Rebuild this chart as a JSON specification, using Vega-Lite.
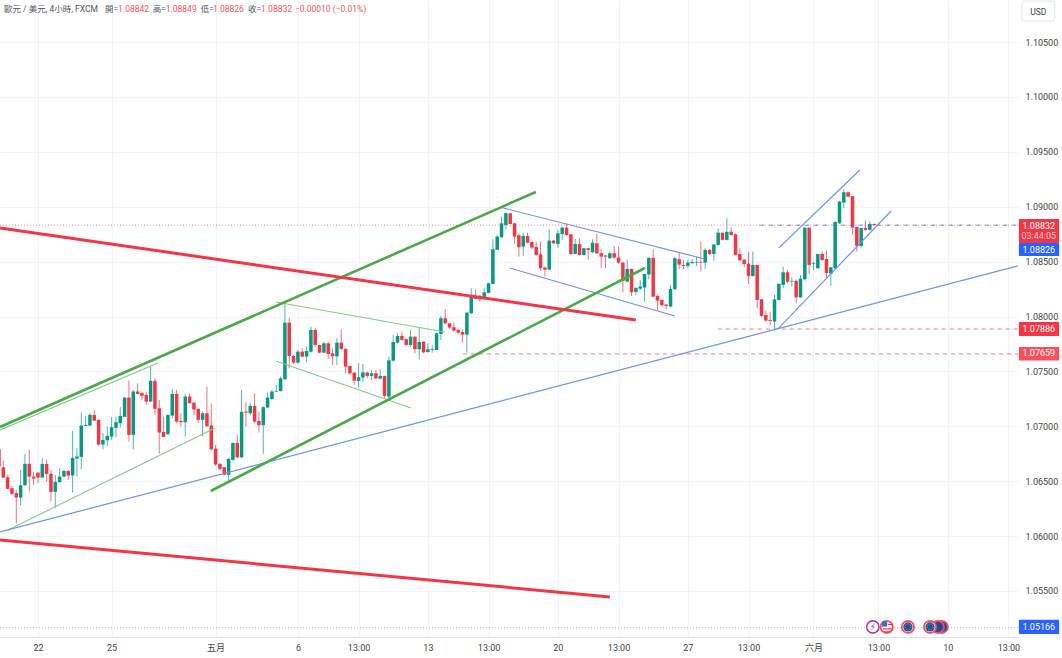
{
"$schema":"https://vega.github.io/schema/vega-lite/v6.json",
"description":"EUR/USD 4h candlesticks with hand-drawn trend lines",
"width":1018,"height":637,
"autosize":{"type":"none"},
"padding":{"left":0,"top":0,"right":44,"bottom":21},
"background":"#ffffff",
"config":{"view":{"stroke":null},"font":"Roboto"},
"datasets":{
"candles":[
{"bar":-1,"open":1.06791,"high":1.06791,"low":1.06633,"close":1.06633},
{"bar":0,"open":1.06627,"high":1.06688,"low":1.06527,"close":1.06533},
{"bar":1,"open":1.06536,"high":1.06558,"low":1.06427,"close":1.0643},
{"bar":2,"open":1.06436,"high":1.06457,"low":1.06375,"close":1.06385},
{"bar":3,"open":1.06391,"high":1.06421,"low":1.06117,"close":1.06351},
{"bar":4,"open":1.06351,"high":1.06603,"low":1.06281,"close":1.06463},
{"bar":5,"open":1.06463,"high":1.06749,"low":1.06457,"close":1.06658},
{"bar":6,"open":1.06658,"high":1.06785,"low":1.06406,"close":1.06542},
{"bar":7,"open":1.06542,"high":1.06588,"low":1.06467,"close":1.06524},
{"bar":8,"open":1.06579,"high":1.06579,"low":1.06482,"close":1.06533},
{"bar":9,"open":1.06533,"high":1.06709,"low":1.06533,"close":1.06658},
{"bar":10,"open":1.06658,"high":1.06694,"low":1.06497,"close":1.06567},
{"bar":11,"open":1.06567,"high":1.06603,"low":1.06315,"close":1.06403},
{"bar":12,"open":1.06403,"high":1.06558,"low":1.06254,"close":1.06494},
{"bar":13,"open":1.06491,"high":1.06618,"low":1.06488,"close":1.06542},
{"bar":14,"open":1.06542,"high":1.06603,"low":1.06536,"close":1.06594},
{"bar":15,"open":1.06594,"high":1.06603,"low":1.06512,"close":1.06552},
{"bar":16,"open":1.06552,"high":1.06958,"low":1.06397,"close":1.06712},
{"bar":17,"open":1.06706,"high":1.068,"low":1.06542,"close":1.06725},
{"bar":18,"open":1.06722,"high":1.07125,"low":1.06609,"close":1.07007},
{"bar":19,"open":1.07004,"high":1.07095,"low":1.07004,"close":1.07013},
{"bar":20,"open":1.07007,"high":1.07119,"low":1.07004,"close":1.07104},
{"bar":21,"open":1.07104,"high":1.0715,"low":1.07049,"close":1.07052},
{"bar":22,"open":1.07059,"high":1.07059,"low":1.06822,"close":1.06834},
{"bar":23,"open":1.06834,"high":1.06937,"low":1.06791,"close":1.06876},
{"bar":24,"open":1.06873,"high":1.06998,"low":1.06822,"close":1.06913},
{"bar":25,"open":1.06907,"high":1.07083,"low":1.06876,"close":1.06992},
{"bar":26,"open":1.06986,"high":1.07089,"low":1.06901,"close":1.07037},
{"bar":27,"open":1.07028,"high":1.07174,"low":1.06989,"close":1.07095},
{"bar":28,"open":1.07086,"high":1.07262,"low":1.07086,"close":1.07262},
{"bar":29,"open":1.07262,"high":1.07417,"low":1.06861,"close":1.06922},
{"bar":30,"open":1.06922,"high":1.07332,"low":1.06791,"close":1.07317},
{"bar":31,"open":1.07317,"high":1.07392,"low":1.07295,"close":1.07295},
{"bar":32,"open":1.07304,"high":1.07317,"low":1.07235,"close":1.07277},
{"bar":33,"open":1.07286,"high":1.07317,"low":1.07195,"close":1.07225},
{"bar":34,"open":1.07225,"high":1.07544,"low":1.07225,"close":1.07414},
{"bar":35,"open":1.07414,"high":1.07438,"low":1.07104,"close":1.07159},
{"bar":36,"open":1.07165,"high":1.07241,"low":1.06749,"close":1.06943},
{"bar":37,"open":1.06949,"high":1.07089,"low":1.06901,"close":1.06904},
{"bar":38,"open":1.06928,"high":1.07104,"low":1.06922,"close":1.07104},
{"bar":39,"open":1.07098,"high":1.07338,"low":1.07074,"close":1.07295},
{"bar":40,"open":1.07295,"high":1.07332,"low":1.07028,"close":1.07043},
{"bar":41,"open":1.07049,"high":1.07119,"low":1.06998,"close":1.07037},
{"bar":42,"open":1.07037,"high":1.07295,"low":1.06907,"close":1.07271},
{"bar":43,"open":1.07271,"high":1.07301,"low":1.0721,"close":1.0721},
{"bar":44,"open":1.07216,"high":1.07216,"low":1.07104,"close":1.07153},
{"bar":45,"open":1.07159,"high":1.07165,"low":1.07028,"close":1.07059},
{"bar":46,"open":1.07059,"high":1.07134,"low":1.06907,"close":1.07119},
{"bar":47,"open":1.07119,"high":1.07362,"low":1.06998,"close":1.07001},
{"bar":48,"open":1.07007,"high":1.0721,"low":1.06779,"close":1.06791},
{"bar":49,"open":1.06797,"high":1.06831,"low":1.0664,"close":1.06652},
{"bar":50,"open":1.06658,"high":1.06664,"low":1.06597,"close":1.06612},
{"bar":51,"open":1.06627,"high":1.06627,"low":1.06558,"close":1.06558},
{"bar":52,"open":1.06558,"high":1.06709,"low":1.06497,"close":1.06703},
{"bar":53,"open":1.06694,"high":1.06849,"low":1.06688,"close":1.06849},
{"bar":54,"open":1.06849,"high":1.06922,"low":1.06709,"close":1.06718},
{"bar":55,"open":1.06718,"high":1.07332,"low":1.06709,"close":1.07131},
{"bar":56,"open":1.07134,"high":1.07219,"low":1.06998,"close":1.07125},
{"bar":57,"open":1.07119,"high":1.07216,"low":1.07104,"close":1.07186},
{"bar":58,"open":1.07186,"high":1.07301,"low":1.07028,"close":1.07043},
{"bar":59,"open":1.07049,"high":1.07134,"low":1.06943,"close":1.0701},
{"bar":60,"open":1.0701,"high":1.0718,"low":1.06749,"close":1.07174},
{"bar":61,"open":1.07171,"high":1.07307,"low":1.07165,"close":1.07262},
{"bar":62,"open":1.07249,"high":1.07331,"low":1.0724,"close":1.07316},
{"bar":63,"open":1.07316,"high":1.07377,"low":1.07316,"close":1.07322},
{"bar":64,"open":1.07322,"high":1.07453,"low":1.07316,"close":1.07437},
{"bar":65,"open":1.07428,"high":1.08127,"low":1.07428,"close":1.07944},
{"bar":66,"open":1.07944,"high":1.0799,"low":1.07529,"close":1.07641},
{"bar":67,"open":1.07641,"high":1.0765,"low":1.07568,"close":1.0758},
{"bar":68,"open":1.0758,"high":1.07695,"low":1.07568,"close":1.0768},
{"bar":69,"open":1.0768,"high":1.07711,"low":1.07629,"close":1.07635},
{"bar":70,"open":1.07635,"high":1.07726,"low":1.0758,"close":1.07686},
{"bar":71,"open":1.0768,"high":1.07908,"low":1.07671,"close":1.07878},
{"bar":72,"open":1.07878,"high":1.07893,"low":1.07726,"close":1.07741},
{"bar":73,"open":1.07741,"high":1.07741,"low":1.07665,"close":1.07671},
{"bar":74,"open":1.07671,"high":1.07771,"low":1.07665,"close":1.07756},
{"bar":75,"open":1.07756,"high":1.07771,"low":1.07614,"close":1.07659},
{"bar":76,"open":1.07665,"high":1.07711,"low":1.07559,"close":1.07638},
{"bar":77,"open":1.07638,"high":1.07802,"low":1.07559,"close":1.07762},
{"bar":78,"open":1.07762,"high":1.07884,"low":1.07695,"close":1.07705},
{"bar":79,"open":1.07705,"high":1.07711,"low":1.07483,"close":1.07544},
{"bar":80,"open":1.0755,"high":1.0755,"low":1.07468,"close":1.07483},
{"bar":81,"open":1.07489,"high":1.07489,"low":1.07377,"close":1.07416},
{"bar":82,"open":1.07413,"high":1.07574,"low":1.07355,"close":1.07447},
{"bar":83,"open":1.07444,"high":1.07568,"low":1.07407,"close":1.07492},
{"bar":84,"open":1.07489,"high":1.07498,"low":1.07437,"close":1.07459},
{"bar":85,"open":1.07459,"high":1.07513,"low":1.07422,"close":1.07483},
{"bar":86,"open":1.07483,"high":1.07513,"low":1.07428,"close":1.07437},
{"bar":87,"open":1.07434,"high":1.07519,"low":1.07428,"close":1.07459},
{"bar":88,"open":1.07459,"high":1.07459,"low":1.07255,"close":1.07277},
{"bar":89,"open":1.0727,"high":1.07635,"low":1.0724,"close":1.07601},
{"bar":90,"open":1.07598,"high":1.07832,"low":1.07589,"close":1.07768},
{"bar":91,"open":1.07762,"high":1.07847,"low":1.07756,"close":1.07823},
{"bar":92,"open":1.07823,"high":1.07862,"low":1.07781,"close":1.07787},
{"bar":93,"open":1.07793,"high":1.07802,"low":1.07732,"close":1.07741},
{"bar":94,"open":1.07741,"high":1.07878,"low":1.07726,"close":1.07817},
{"bar":95,"open":1.07817,"high":1.07817,"low":1.07665,"close":1.07702},
{"bar":96,"open":1.07702,"high":1.07902,"low":1.0761,"close":1.07768},
{"bar":97,"open":1.07771,"high":1.07771,"low":1.07665,"close":1.07674},
{"bar":98,"open":1.07677,"high":1.07756,"low":1.07671,"close":1.07702},
{"bar":99,"open":1.07695,"high":1.07741,"low":1.07671,"close":1.07702},
{"bar":100,"open":1.07695,"high":1.07853,"low":1.07695,"close":1.07847},
{"bar":101,"open":1.07841,"high":1.08005,"low":1.07787,"close":1.07984},
{"bar":102,"open":1.07984,"high":1.08069,"low":1.07929,"close":1.07938},
{"bar":103,"open":1.07938,"high":1.07938,"low":1.07884,"close":1.07899},
{"bar":104,"open":1.07902,"high":1.07944,"low":1.07862,"close":1.07872},
{"bar":105,"open":1.07878,"high":1.07884,"low":1.07847,"close":1.07853},
{"bar":106,"open":1.07859,"high":1.07884,"low":1.07762,"close":1.07835},
{"bar":107,"open":1.07835,"high":1.08036,"low":1.07671,"close":1.08036},
{"bar":108,"open":1.0803,"high":1.08257,"low":1.08021,"close":1.08182},
{"bar":109,"open":1.08188,"high":1.08248,"low":1.08157,"close":1.0816},
{"bar":110,"open":1.08188,"high":1.08197,"low":1.08136,"close":1.08157},
{"bar":111,"open":1.0816,"high":1.08257,"low":1.08157,"close":1.08221},
{"bar":112,"open":1.08215,"high":1.08309,"low":1.08212,"close":1.08303},
{"bar":113,"open":1.08297,"high":1.08704,"low":1.08291,"close":1.08613},
{"bar":114,"open":1.08607,"high":1.08743,"low":1.08607,"close":1.08728},
{"bar":115,"open":1.08722,"high":1.0891,"low":1.08719,"close":1.08849},
{"bar":116,"open":1.08834,"high":1.08947,"low":1.08795,"close":1.08941},
{"bar":117,"open":1.08941,"high":1.08941,"low":1.08843,"close":1.08843},
{"bar":118,"open":1.08849,"high":1.08856,"low":1.08661,"close":1.08728},
{"bar":119,"open":1.0874,"high":1.08758,"low":1.08546,"close":1.08631},
{"bar":120,"open":1.08637,"high":1.08764,"low":1.08552,"close":1.08734},
{"bar":121,"open":1.08734,"high":1.08764,"low":1.08667,"close":1.08673},
{"bar":122,"open":1.08679,"high":1.08686,"low":1.08613,"close":1.08628},
{"bar":123,"open":1.08634,"high":1.08683,"low":1.08552,"close":1.08561},
{"bar":124,"open":1.08567,"high":1.08683,"low":1.08418,"close":1.0844},
{"bar":125,"open":1.08446,"high":1.08455,"low":1.08364,"close":1.08427},
{"bar":126,"open":1.08427,"high":1.08795,"low":1.08424,"close":1.08692},
{"bar":127,"open":1.08692,"high":1.08698,"low":1.08661,"close":1.08667},
{"bar":128,"open":1.08661,"high":1.08789,"low":1.08628,"close":1.08758},
{"bar":129,"open":1.08752,"high":1.08819,"low":1.08698,"close":1.0881},
{"bar":130,"open":1.0881,"high":1.08849,"low":1.08734,"close":1.08743},
{"bar":131,"open":1.08749,"high":1.08749,"low":1.08561,"close":1.0857},
{"bar":132,"open":1.0857,"high":1.08707,"low":1.08567,"close":1.08661},
{"bar":133,"open":1.08661,"high":1.08713,"low":1.08555,"close":1.08561},
{"bar":134,"open":1.08561,"high":1.08622,"low":1.08555,"close":1.08622},
{"bar":135,"open":1.08622,"high":1.08622,"low":1.08516,"close":1.08607},
{"bar":136,"open":1.08585,"high":1.08704,"low":1.08576,"close":1.08673},
{"bar":137,"open":1.08667,"high":1.08752,"low":1.0857,"close":1.08576},
{"bar":138,"open":1.08576,"high":1.08616,"low":1.0844,"close":1.08546},
{"bar":139,"open":1.08555,"high":1.08561,"low":1.0844,"close":1.08546},
{"bar":140,"open":1.08531,"high":1.08591,"low":1.08525,"close":1.08576},
{"bar":141,"open":1.08576,"high":1.08643,"low":1.08525,"close":1.08537},
{"bar":142,"open":1.08537,"high":1.08637,"low":1.08479,"close":1.08491},
{"bar":143,"open":1.08491,"high":1.085,"low":1.08221,"close":1.08324},
{"bar":144,"open":1.08318,"high":1.08516,"low":1.08312,"close":1.08434},
{"bar":145,"open":1.08434,"high":1.08434,"low":1.08188,"close":1.08221},
{"bar":146,"open":1.08224,"high":1.08267,"low":1.08197,"close":1.08261},
{"bar":147,"open":1.08254,"high":1.08333,"low":1.08242,"close":1.08273},
{"bar":148,"open":1.08264,"high":1.08388,"low":1.08136,"close":1.08388},
{"bar":149,"open":1.08382,"high":1.0854,"low":1.08339,"close":1.08534},
{"bar":150,"open":1.08534,"high":1.08613,"low":1.08176,"close":1.08182},
{"bar":151,"open":1.08188,"high":1.08197,"low":1.08054,"close":1.08145},
{"bar":152,"open":1.08151,"high":1.08157,"low":1.08091,"close":1.08103},
{"bar":153,"open":1.08109,"high":1.08115,"low":1.08066,"close":1.08097},
{"bar":154,"open":1.08091,"high":1.08288,"low":1.08081,"close":1.08251},
{"bar":155,"open":1.08248,"high":1.0854,"low":1.08242,"close":1.08531},
{"bar":156,"open":1.08522,"high":1.08582,"low":1.08431,"close":1.08473},
{"bar":157,"open":1.0847,"high":1.08516,"low":1.08431,"close":1.08461},
{"bar":158,"open":1.08461,"high":1.08516,"low":1.0844,"close":1.08491},
{"bar":159,"open":1.08485,"high":1.08525,"low":1.08485,"close":1.08497},
{"bar":160,"open":1.08491,"high":1.08546,"low":1.08461,"close":1.08497},
{"bar":161,"open":1.08497,"high":1.08683,"low":1.08409,"close":1.08491},
{"bar":162,"open":1.08491,"high":1.08622,"low":1.08434,"close":1.08607},
{"bar":163,"open":1.08607,"high":1.08613,"low":1.08561,"close":1.0857},
{"bar":164,"open":1.0857,"high":1.08661,"low":1.08509,"close":1.08655},
{"bar":165,"open":1.08652,"high":1.08804,"low":1.08646,"close":1.08764},
{"bar":166,"open":1.08764,"high":1.08764,"low":1.08692,"close":1.08698},
{"bar":167,"open":1.08698,"high":1.08895,"low":1.08692,"close":1.08771},
{"bar":168,"open":1.08773,"high":1.08813,"low":1.08734,"close":1.08743},
{"bar":169,"open":1.08749,"high":1.08758,"low":1.08555,"close":1.08561},
{"bar":170,"open":1.0857,"high":1.08622,"low":1.085,"close":1.08512},
{"bar":171,"open":1.08518,"high":1.08524,"low":1.08449,"close":1.08479},
{"bar":172,"open":1.08482,"high":1.08591,"low":1.08297,"close":1.0837},
{"bar":173,"open":1.0837,"high":1.08591,"low":1.08364,"close":1.0847},
{"bar":174,"open":1.0847,"high":1.0847,"low":1.08075,"close":1.08151},
{"bar":175,"open":1.08157,"high":1.08157,"low":1.07999,"close":1.08005},
{"bar":176,"open":1.08014,"high":1.08054,"low":1.07954,"close":1.07963},
{"bar":177,"open":1.07969,"high":1.08045,"low":1.07923,"close":1.0796},
{"bar":178,"open":1.07954,"high":1.08197,"low":1.07887,"close":1.08157},
{"bar":179,"open":1.08151,"high":1.08303,"low":1.08145,"close":1.08297},
{"bar":180,"open":1.08288,"high":1.08455,"low":1.08257,"close":1.08403},
{"bar":181,"open":1.08403,"high":1.08424,"low":1.08303,"close":1.08318},
{"bar":182,"open":1.08318,"high":1.08354,"low":1.08272,"close":1.08324},
{"bar":183,"open":1.08324,"high":1.08333,"low":1.08121,"close":1.08175},
{"bar":184,"open":1.08175,"high":1.08379,"low":1.08169,"close":1.08345},
{"bar":185,"open":1.08339,"high":1.0881,"low":1.08333,"close":1.0881},
{"bar":186,"open":1.0881,"high":1.0881,"low":1.08388,"close":1.0847},
{"bar":187,"open":1.08479,"high":1.085,"low":1.08424,"close":1.08485},
{"bar":188,"open":1.08439,"high":1.0857,"low":1.08439,"close":1.0857},
{"bar":189,"open":1.0857,"high":1.08591,"low":1.08506,"close":1.08515},
{"bar":190,"open":1.08524,"high":1.086,"low":1.08342,"close":1.08397},
{"bar":191,"open":1.08391,"high":1.08449,"low":1.08279,"close":1.08449},
{"bar":192,"open":1.08439,"high":1.08868,"low":1.08433,"close":1.08861},
{"bar":193,"open":1.08849,"high":1.09053,"low":1.08843,"close":1.09047},
{"bar":194,"open":1.09038,"high":1.09159,"low":1.08986,"close":1.09132},
{"bar":195,"open":1.09132,"high":1.09138,"low":1.09086,"close":1.09092},
{"bar":196,"open":1.09098,"high":1.09098,"low":1.08743,"close":1.0881},
{"bar":197,"open":1.08816,"high":1.08816,"low":1.08591,"close":1.08643},
{"bar":198,"open":1.08643,"high":1.08807,"low":1.08628,"close":1.08807},
{"bar":199,"open":1.08807,"high":1.08874,"low":1.08783,"close":1.08789},
{"bar":200,"open":1.08789,"high":1.08864,"low":1.08783,"close":1.08843},
{"bar":201,"open":1.08842,"high":1.08849,"low":1.08826,"close":1.08832}
],
"drawings":[
{"style":"closeDotted","id":"c","bar":-0.76,"price":1.08832},{"style":"closeDotted","id":"c","bar":234.2,"price":1.08832},
{"style":"blueDashed","id":"b","bar":174.7,"price":1.08832},{"style":"blueDashed","id":"b","bar":234.2,"price":1.08832},
{"style":"redDashed","id":"s1","bar":164.9,"price":1.07886},{"style":"redDashed","id":"s1","bar":234.2,"price":1.07886},
{"style":"redDashed","id":"s2","bar":106.1,"price":1.07659},{"style":"redDashed","id":"s2","bar":234.2,"price":1.07659},
{"style":"blueDotted","id":"l","bar":-0.76,"price":1.05166},{"style":"blueDotted","id":"l","bar":234.2,"price":1.05166},
{"style":"greenThin","id":"g1","bar":-0.76,"price":1.06967},{"style":"greenThin","id":"g1","bar":35.7,"price":1.07577},
{"style":"greenThin","id":"g2","bar":1.1,"price":1.06056},{"style":"greenThin","id":"g2","bar":48.9,"price":1.06985},
{"style":"greenThin","id":"g3","bar":62.9,"price":1.08133},{"style":"greenThin","id":"g3","bar":101.9,"price":1.07859},
{"style":"greenThin","id":"g4","bar":62.9,"price":1.07595},{"style":"greenThin","id":"g4","bar":94.1,"price":1.07167},
{"style":"blue","id":"b1","bar":-0.76,"price":1.06038},{"style":"blue","id":"b1","bar":234.2,"price":1.08461},
{"style":"blue","id":"b2","bar":115.3,"price":1.08989},{"style":"blue","id":"b2","bar":161.9,"price":1.08524},
{"style":"blue","id":"b3","bar":116.9,"price":1.08442},{"style":"blue","id":"b3","bar":155,"price":1.08005},
{"style":"blue","id":"b4","bar":178.8,"price":1.07887},{"style":"blue","id":"b4","bar":204.9,"price":1.08961},
{"style":"blue","id":"b5","bar":179,"price":1.08625},{"style":"blue","id":"b5","bar":197.7,"price":1.09335},
{"style":"greenThick","id":"t1","bar":-0.76,"price":1.06994},{"style":"greenThick","id":"t1","bar":122.9,"price":1.09134},
{"style":"greenThick","id":"t2","bar":47.9,"price":1.06411},{"style":"greenThick","id":"t2","bar":148.1,"price":1.08442},
{"style":"redThick","id":"r1","bar":-0.76,"price":1.08807},{"style":"redThick","id":"r1","bar":146,"price":1.07969},
{"style":"redThick","id":"r2","bar":-0.76,"price":1.05965},{"style":"redThick","id":"r2","bar":140,"price":1.05446}
],
"priceBoxes":[
{"kind":"close","from":234.4,"to":243.7,"top":1.08889,"bottom":1.0867},
{"kind":"bid","from":234.4,"to":243.7,"top":1.0867,"bottom":1.08552},
{"kind":"support","from":234.4,"to":243.7,"top":1.07951,"bottom":1.07823},
{"kind":"support2","from":234.4,"to":243.7,"top":1.07723,"bottom":1.076},
{"kind":"last","from":234.4,"to":243.7,"top":1.05237,"bottom":1.05109}
],
"priceLabels":[
{"bar":239,"price":1.08825,"label":"1.08832","faint":false},
{"bar":239,"price":1.08734,"label":"03:44:05","faint":true},
{"bar":239,"price":1.08606,"label":"1.08826","faint":false},
{"bar":239,"price":1.07887,"label":"1.07886","faint":false},
{"bar":239,"price":1.07664,"label":"1.07659","faint":false},
{"bar":239,"price":1.05173,"label":"1.05166","faint":false}
],
"header":[
{"tone":"name","bar":0.16,"price":1.10805,"label":"歐元 / 美元, 4小時, FXCM"},
{"tone":"name","bar":23.5,"price":1.10805,"label":"開="},
{"tone":"name","bar":34.5,"price":1.10805,"label":"高="},
{"tone":"name","bar":45.6,"price":1.10805,"label":"低="},
{"tone":"name","bar":56.5,"price":1.10805,"label":"收="},
{"tone":"value","bar":26.5,"price":1.10805,"label":"1.08842"},
{"tone":"value","bar":37.5,"price":1.10805,"label":"1.08849"},
{"tone":"value","bar":48.4,"price":1.10805,"label":"1.08826"},
{"tone":"value","bar":59.5,"price":1.10805,"label":"1.08832"},
{"tone":"value","bar":67.3,"price":1.10805,"label":"−0.00010 (−0.01%)"}
],
"events":[
{"icon":"bolt","layer":1,"bar":200.7,"price":1.05173},
{"icon":"us","layer":1,"bar":203.9,"price":1.05173},
{"icon":"eu","layer":1,"bar":216.6,"price":1.05173},
{"icon":"eu","layer":1,"bar":215.7,"price":1.05173},
{"icon":"eu","layer":2,"bar":213.9,"price":1.05173},
{"icon":"eu","layer":2,"bar":208.8,"price":1.05173}
]
},
"encoding":{
"x":{"field":"bar","type":"quantitative","title":null,"scale":{"domain":[-0.76,234.2],"nice":false,"zero":false},
"axis":{"values":[8,25,49,68,82,98,112,128,142,158,172,187,202,218,232],
"labelExpr":"{'8':'22','25':'25','49':'五月','68':'6','82':'13:00','98':'13','112':'13:00','128':'20','142':'13:00','158':'27','172':'13:00','187':'六月','202':'13:00','218':'10','232':'13:00'}[datum.value]",
"grid":true,"gridColor":"#f3f4f6","gridWidth":1,"ticks":false,"domain":true,"domainColor":"#e0e3eb","domainWidth":1,
"labelFont":"Roboto, 'Noto Sans CJK TC'","labelFontSize":9,"labelColor":"#444444","labelPadding":6,"labelOverlap":false,"labelFlush":false}},
"y":{"type":"quantitative","title":null,"scale":{"domain":[1.05081,1.10883],"nice":false,"zero":false},
"axis":{"orient":"right","values":[1.055,1.06,1.065,1.07,1.075,1.08,1.085,1.09,1.095,1.1,1.105],"format":".5f",
"grid":true,"gridColor":"#f3f4f6","gridWidth":1,"ticks":false,"domain":false,
"labelFont":"Roboto","labelFontSize":9,"labelColor":"#444444","labelPadding":7,"labelOverlap":false,"labelFlush":false}}
},
"layer":[
{"data":{"name":"candles"},"mark":{"type":"rule","strokeWidth":1,"opacity":0.7,"clip":true},
"encoding":{"y":{"field":"high"},"y2":{"field":"low"},
"color":{"condition":{"test":"datum.close>=datum.open","value":"#089981"},"value":"#f23645"}}},
{"data":{"name":"candles"},"mark":{"type":"rule","strokeWidth":3.5,"clip":true},
"encoding":{"y":{"field":"open"},"y2":{"field":"close"},
"color":{"condition":{"test":"datum.close>=datum.open","value":"#089981"},"value":"#f23645"}}},
{"data":{"name":"drawings"},"transform":[{"filter":"datum.style=='closeDotted'"}],
"mark":{"type":"line","color":"#f23645","opacity":0.55,"strokeWidth":1,"strokeDash":[1,2],"clip":true},
"encoding":{"y":{"field":"price"},"detail":{"field":"id"}}},
{"data":{"name":"drawings"},"transform":[{"filter":"datum.style=='blueDashed'"}],
"mark":{"type":"line","color":"#3f6fe8","opacity":0.8,"strokeWidth":1,"strokeDash":[4,5],"clip":true},
"encoding":{"y":{"field":"price"},"detail":{"field":"id"}}},
{"data":{"name":"drawings"},"transform":[{"filter":"datum.style=='redDashed'"}],
"mark":{"type":"line","color":"#f23645","opacity":0.65,"strokeWidth":1,"strokeDash":[4,4],"clip":true},
"encoding":{"y":{"field":"price"},"detail":{"field":"id"}}},
{"data":{"name":"drawings"},"transform":[{"filter":"datum.style=='blueDotted'"}],
"mark":{"type":"line","color":"#2962ff","opacity":0.45,"strokeWidth":1,"strokeDash":[1,2],"clip":true},
"encoding":{"y":{"field":"price"},"detail":{"field":"id"}}},
{"data":{"name":"drawings"},"transform":[{"filter":"datum.style=='greenThin'"}],
"mark":{"type":"line","color":"#86c98a","strokeWidth":1.1,"clip":true},
"encoding":{"y":{"field":"price"},"detail":{"field":"id"}}},
{"data":{"name":"drawings"},"transform":[{"filter":"datum.style=='blue'"}],
"mark":{"type":"line","color":"#6b93f5","strokeWidth":1.2,"clip":true},
"encoding":{"y":{"field":"price"},"detail":{"field":"id"}}},
{"data":{"name":"drawings"},"transform":[{"filter":"datum.style=='greenThick'"}],
"mark":{"type":"line","color":"#4ca84a","strokeWidth":2.6,"clip":true},
"encoding":{"y":{"field":"price"},"detail":{"field":"id"}}},
{"data":{"name":"drawings"},"transform":[{"filter":"datum.style=='redThick'"}],
"mark":{"type":"line","color":"#f23645","strokeWidth":3,"clip":true},
"encoding":{"y":{"field":"price"},"detail":{"field":"id"}}},
{"data":{"name":"priceBoxes"},"mark":{"type":"rect","cornerRadius":1},
"encoding":{"x":{"field":"from"},"x2":{"field":"to"},"y":{"field":"top"},"y2":{"field":"bottom"},
"color":{"field":"kind","type":"nominal","legend":null,
"scale":{"domain":["close","bid","support","support2","last"],"range":["#f23645","#2962ff","#f23645","#f4505f","#2962ff"]}}}},
{"data":{"name":"priceLabels"},"mark":{"type":"text","font":"Roboto","fontSize":9,"align":"center","baseline":"middle"},
"encoding":{"y":{"field":"price"},"text":{"field":"label"},
"fill":{"condition":{"test":"datum.faint","value":"#fbc8cd"},"value":"#ffffff"}}},
{"data":{"values":[{"from":235.1,"to":242.7,"top":1.10874,"bottom":1.10692}]},
"mark":{"type":"rect","fill":"#ffffff","stroke":"#e0e3eb","strokeWidth":1,"cornerRadius":3},
"encoding":{"x":{"field":"from"},"x2":{"field":"to"},"y":{"field":"top"},"y2":{"field":"bottom"}}},
{"data":{"values":[{"bar":238.9,"price":1.10774,"label":"USD"}]},
"mark":{"type":"text","font":"Roboto","fontSize":8.5,"fill":"#444444","align":"center","baseline":"middle"},
"encoding":{"y":{"field":"price"},"text":{"field":"label"}}},
{"data":{"name":"header"},"transform":[{"filter":"datum.tone=='name'"}],
"mark":{"type":"text","font":"Roboto, 'Noto Sans CJK TC'","fontSize":8.5,"fill":"#555555","align":"left","baseline":"middle"},
"encoding":{"y":{"field":"price"},"text":{"field":"label"}}},
{"data":{"name":"header"},"transform":[{"filter":"datum.tone=='value'"}],
"mark":{"type":"text","font":"Roboto","fontSize":8.5,"fill":"#f7525f","align":"left","baseline":"middle"},
"encoding":{"y":{"field":"price"},"text":{"field":"label"}}},
{"data":{"name":"events"},"transform":[{"filter":"datum.icon=='bolt'"}],
"mark":{"type":"point","shape":"circle","size":150,"filled":false,"fill":"#ffffff","fillOpacity":1,"stroke":"#9c27b0","strokeWidth":1.4},
"encoding":{"y":{"field":"price"}}},
{"data":{"name":"events"},"transform":[{"filter":"datum.icon=='bolt'"}],
"mark":{"type":"text","text":"⚡","font":"DejaVu Sans","fontSize":9,"fill":"#9c27b0","align":"center","baseline":"middle"},
"encoding":{"y":{"field":"price"}}},
{"data":{"name":"events"},"transform":[{"filter":"datum.icon=='us'"}],
"mark":{"type":"point","shape":"circle","size":150,"filled":false,"fill":"#ffffff","fillOpacity":1,"stroke":"#f4505f","strokeWidth":1.8},
"encoding":{"y":{"field":"price"}}},
{"data":{"values":[{"bar":203.4,"price":1.052}]},
"mark":{"type":"point","shape":"square","size":28,"filled":true,"color":"#3d6fc4","opacity":1},
"encoding":{"y":{"field":"price"}}},
{"data":{"values":[{"id":"a","bar":204.2,"price":1.05195},{"id":"a","bar":205.3,"price":1.05195},{"id":"b","bar":203,"price":1.05155},{"id":"b","bar":205.3,"price":1.05155},{"id":"c","bar":203.2,"price":1.05128},{"id":"c","bar":205,"price":1.05128}]},
"mark":{"type":"line","color":"#f23645","strokeWidth":1.2},
"encoding":{"y":{"field":"price"},"detail":{"field":"id"}}},
{"data":{"name":"events"},"transform":[{"filter":"datum.icon=='eu'&&datum.layer==1"}],
"mark":{"type":"point","shape":"circle","size":150,"filled":false,"fill":"#1d4e9e","fillOpacity":1,"stroke":"#f4505f","strokeWidth":1.8},
"encoding":{"y":{"field":"price"}}},
{"data":{"name":"events"},"transform":[{"filter":"datum.icon=='eu'&&datum.layer==2"}],
"mark":{"type":"point","shape":"circle","size":150,"filled":false,"fill":"#ffffff","fillOpacity":1,"stroke":"#f4505f","strokeWidth":1.8},
"encoding":{"y":{"field":"price"}}},
{"data":{"name":"events"},"transform":[{"filter":"datum.icon=='eu'&&datum.layer==2"}],
"mark":{"type":"point","shape":"circle","size":85,"filled":true,"color":"#1d4e9e","opacity":1},
"encoding":{"y":{"field":"price"}}},
{"data":{"name":"events"},"transform":[{"filter":"datum.icon=='eu'&&datum.layer==2"}],
"mark":{"type":"point","shape":"circle","size":34,"filled":false,"stroke":"#e5c04a","strokeWidth":1,"strokeDash":[1,1.6],"opacity":1},
"encoding":{"y":{"field":"price"}}}
]
}
